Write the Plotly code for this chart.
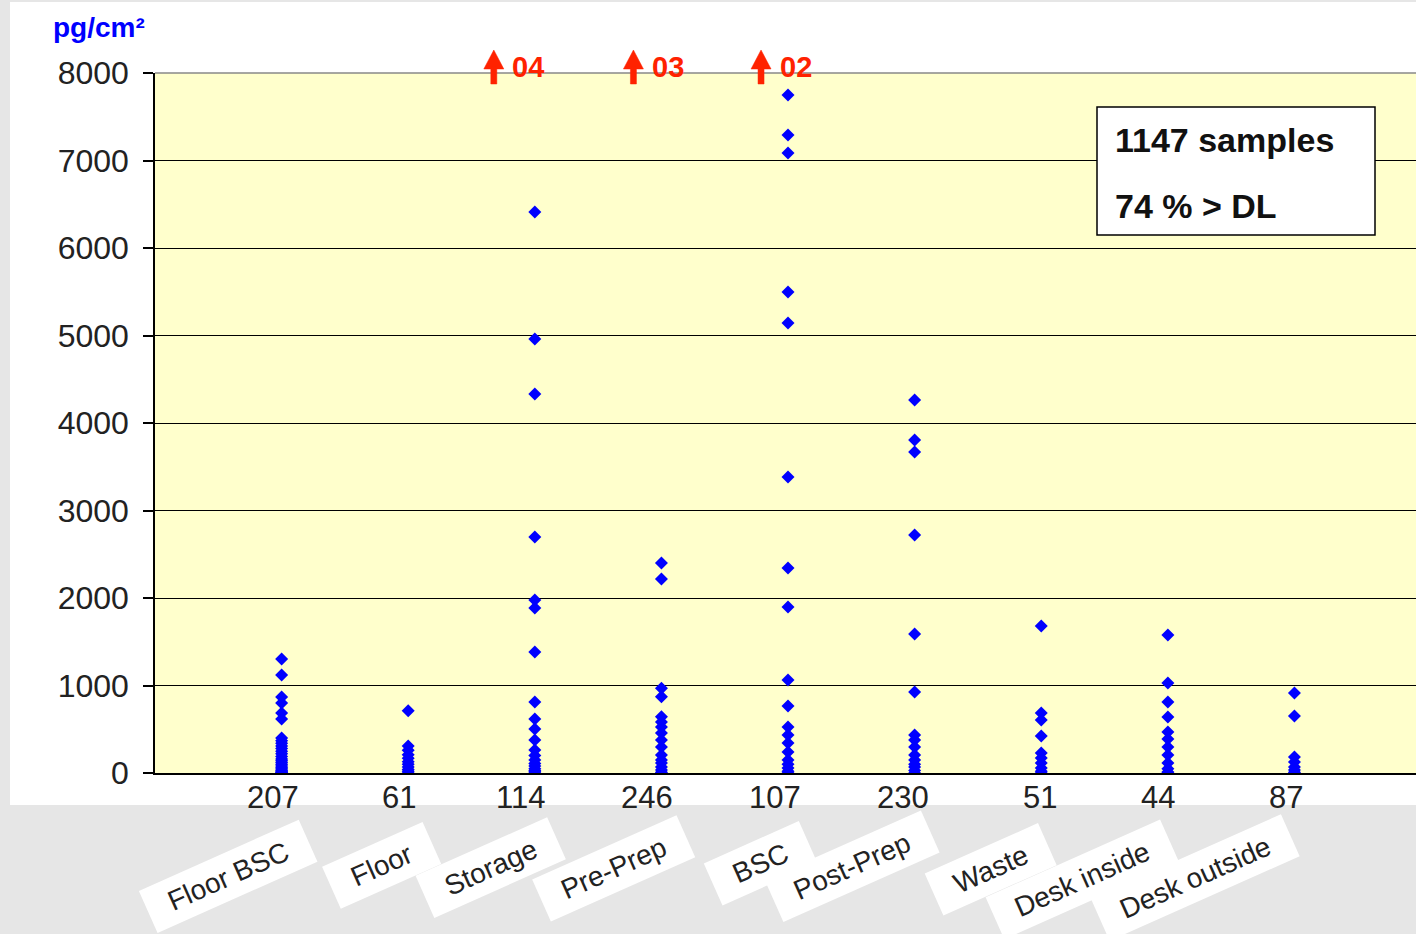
import plotly.graph_objects as go

# categories and the sample count shown under each column
CATEGORIES = ["Floor BSC", "Floor", "Storage", "Pre-Prep", "BSC",
              "Post-Prep", "Waste", "Desk inside", "Desk outside"]
SAMPLE_COUNTS = [207, 61, 114, 246, 107, 230, 51, 44, 87]

FLOOR_BSC = [1303, 1120, 870, 800, 686, 617, 400, 370, 340, 310, 280, 250, 220,
             190, 160, 140, 120, 100, 80, 60, 45, 30, 20, 10, 5, 0]
FLOOR = [712, 310, 260, 210, 170, 130, 100, 70, 40, 20, 0]
STORAGE = [6411, 4960, 4331, 2697, 1977, 1886, 1383, 811, 617, 503, 377, 263,
           200, 150, 110, 80, 50, 30, 15, 0]
PRE_PREP = [2400, 2217, 968, 872, 644, 583, 526, 457, 377, 297, 206, 150, 114,
            70, 34, 10, 0]
BSC = [7749, 7291, 7086, 5497, 5143, 3383, 2343, 1897, 1063, 766, 526, 434,
       343, 240, 149, 100, 57, 20, 0]
POST_PREP = [4263, 3806, 3669, 2720, 1589, 926, 434, 377, 297, 206, 149, 100,
             69, 30, 0]
WASTE = [1680, 686, 606, 423, 229, 171, 114, 57, 20, 0]
DESK_INSIDE = [1577, 1029, 811, 640, 469, 389, 297, 206, 114, 50, 11, 0]
DESK_OUTSIDE = [914, 651, 183, 126, 69, 34, 10, 0]

SERIES = [FLOOR_BSC, FLOOR, STORAGE, PRE_PREP, BSC, POST_PREP, WASTE,
          DESK_INSIDE, DESK_OUTSIDE]

# number of points above the 8000 limit
OFF_SCALE_CATS = ["Storage", "Pre-Prep", "BSC"]
OFF_SCALE_COUNTS = ["04", "03", "02"]

Y_TICKS = [0, 1000, 2000, 3000, 4000, 5000, 6000, 7000, 8000]
N_SAMPLES = 1147
PCT_ABOVE_DL = 74

# ---- layout geometry (pixels) ----
W, H = 1416, 934
PL, PR, PT, PB = 155, 1416, 73, 773
X_MAX = 9.96
FONT = "Liberation Sans, Arial, sans-serif"
BLUE = "#0000FF"
RED = "#FF2200"
GRAY_BG = "#E6E6E6"


def px(x):
    return (x - PL) / (PR - PL)


def py(y):
    return (PB - y) / (PB - PT)


def cat_px(i):
    return PL + (i + 1) / X_MAX * (PR - PL)


fig = go.Figure()

xs, ys = [], []
for i, vals in enumerate(SERIES):
    xs += [i + 1] * len(vals)
    ys += vals

fig.add_trace(go.Scatter(
    x=xs, y=ys, mode="markers",
    marker=dict(symbol="diamond", size=10, color=BLUE, line=dict(width=0)),
    showlegend=False, hoverinfo="y",
))

shapes = [
    # grey frame of the slide
    dict(type="rect", xref="paper", yref="paper", x0=px(0), x1=px(W), y0=py(H), y1=py(805),
         fillcolor=GRAY_BG, line_width=0, layer="below"),
    dict(type="rect", xref="paper", yref="paper", x0=px(0), x1=px(10), y0=py(H), y1=py(0),
         fillcolor=GRAY_BG, line_width=0, layer="below"),
    dict(type="rect", xref="paper", yref="paper", x0=px(0), x1=px(W), y0=py(2), y1=py(0),
         fillcolor=GRAY_BG, line_width=0, layer="below"),
    # grey top border of the plot area
    dict(type="line", xref="paper", yref="paper", x0=0, x1=1, y0=1, y1=1,
         line=dict(color="#888888", width=1.5)),
    # info box
    dict(type="rect", xref="paper", yref="paper", x0=px(1097), x1=px(1375), y0=py(235), y1=py(107),
         fillcolor="white", line=dict(color="black", width=1.5)),
]


def note(x, y, text, font, xref="paper", xanchor="center", **kw):
    return dict(xref=xref, yref="paper", x=x, y=y, text=text, showarrow=False,
                xanchor=xanchor, yanchor="middle", font=font, **kw)


box_font = dict(family=FONT, size=34, color="#111111", weight="bold")
annotations = [
    note(px(99), py(27), "pg/cm²", dict(family=FONT, size=28, color=BLUE, weight="bold")),
    note(px(1113), py(140), f"{N_SAMPLES} samples", box_font, xanchor="left"),
    note(px(1113), py(206), f"{PCT_ABOVE_DL} % > DL", box_font, xanchor="left"),
]

# sample counts under the axis
count_shift = [-9, -9, -14, -14, -13, -12, -1, -10, -8]
for i, n in enumerate(SAMPLE_COUNTS):
    annotations.append(note(i + 1, py(797), str(n), dict(family=FONT, size=31, color="#222222"),
                            xref="x", xshift=count_shift[i]))

# rotated category labels on white boxes
label_shift = [-54, -27, -44, -48, -28, -63, -51, -86, -99]
label_y = [876, 865, 867, 868, 863, 866, 869, 879, 878]
for i, name in enumerate(CATEGORIES):
    annotations.append(note(i + 1, py(label_y[i]), "&nbsp;&nbsp;" + name + "&nbsp;&nbsp;",
                            dict(family=FONT, size=28, color="#222222"), xref="x",
                            xshift=label_shift[i], textangle=-24, bgcolor="white", borderpad=7))

# red arrows for off-scale points
arrow_shift = [-41, -28, -27]
text_shift = [-25, -11, -10]
for k, cat in enumerate(OFF_SCALE_CATS):
    i = CATEGORIES.index(cat)
    tx = cat_px(i) + arrow_shift[k]
    ty = 50
    pts = [(0, 0), (-10, 19), (-3, 19), (-3, 34), (3, 34), (3, 19), (10, 19)]
    path = "M" + " L".join(f"{px(tx + dx):.5f},{py(ty + dy):.5f}" for dx, dy in pts) + " Z"
    shapes.append(dict(type="path", xref="paper", yref="paper", path=path,
                       fillcolor=RED, line=dict(color=RED, width=0.5)))
    annotations.append(note(i + 1, py(67), OFF_SCALE_COUNTS[k],
                            dict(family=FONT, size=29, color=RED, weight="bold"),
                            xref="x", xanchor="left", xshift=text_shift[k]))

fig.update_layout(
    width=W, height=H, autosize=False,
    margin=dict(l=PL, r=W - PR, t=PT, b=H - PB, pad=0),
    paper_bgcolor="white",
    plot_bgcolor="#FFFFCC",
    showlegend=False,
    xaxis=dict(range=[0, X_MAX], showgrid=False, zeroline=False, showticklabels=False,
               ticks="", showline=True, linecolor="black", linewidth=1.5, fixedrange=True),
    yaxis=dict(range=[0, 8000], tickvals=Y_TICKS, showgrid=True, gridcolor="black", gridwidth=1.2,
               zeroline=False, showline=True, linecolor="black", linewidth=1.5,
               ticks="outside", ticklen=10, tickcolor="black", tickwidth=1.5,
               ticklabelstandoff=8,
               tickfont=dict(family=FONT, size=32, color="#222222"), fixedrange=True),
    shapes=shapes,
    annotations=annotations,
)

fig.write_html("out.html", config={"displayModeBar": False},
               post_script="document.body.style.margin='0';document.body.style.padding='0';")
